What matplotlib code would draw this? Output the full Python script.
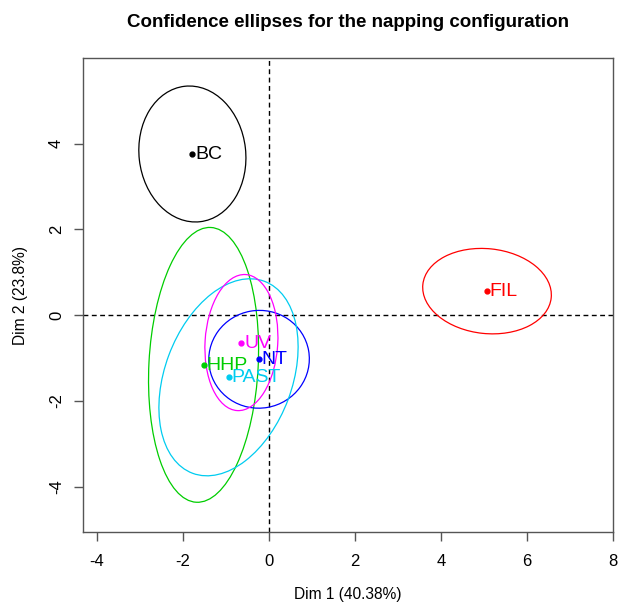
import numpy as np
import matplotlib
matplotlib.use("Agg")
import matplotlib.pyplot as plt
from matplotlib.patches import Ellipse

plt.rcParams['font.family'] = ['Liberation Sans', 'DejaVu Sans']
plt.rcParams['axes.unicode_minus'] = False

## Product coordinates on the first two dimensions ##
products = ['BC', 'FIL', 'HHP', 'NT', 'PAST', 'UV']
dim1 = [-1.78, 5.07, -1.52, -0.23, -0.94, -0.64]
dim2 = [3.76, 0.56, -1.16, -1.03, -1.45, -0.64]

## Confidence ellipses (full axis lengths and rotation in degrees) ##
ell_width = [3.18, 3.00, 6.42, 2.34, 4.78, 3.18]
ell_height = [2.48, 1.98, 2.54, 2.28, 2.96, 1.69]
ell_angle = [96.5, -6.0, 87.0, 10.0, 69.6, 86.5]

colors = ['black', '#FF0000', '#00CD00', '#0000FF', '#00CCF0', '#FF00FF']

fig = plt.figure(figsize=(6.18, 6.06), dpi=100)
ax = fig.add_axes([0.1338, 0.1221, 0.8582, 0.7822])

ax.axhline(0, color='black', lw=1.0, ls=(0, (3.5, 2.5)), zorder=1)
ax.axvline(0, color='black', lw=1.0, ls=(0, (3.5, 2.5)), zorder=1)

for i in range(len(products)):
    e = Ellipse((dim1[i], dim2[i]), ell_width[i], ell_height[i], angle=ell_angle[i],
                fill=False, edgecolor=colors[i], lw=0.9, zorder=2)
    ax.add_patch(e)
    ax.plot(dim1[i], dim2[i], 'o', color=colors[i], markersize=3.5, zorder=3)
    ax.annotate(products[i], (dim1[i], dim2[i]), xytext=(2.0, -0.5),
                textcoords='offset points', ha='left', va='center',
                color=colors[i], fontsize=14, zorder=4)

ax.set_xlim(-4.33, 8.0)
ax.set_ylim(-5.06, 6.0)
ax.set_xticks([-4, -2, 0, 2, 4, 6, 8])
ax.set_yticks([-4, -2, 0, 2, 4])
ax.set_yticklabels(['-4', '-2', '0', '2', '4'], rotation=90, va='center')

for side in ['top', 'right', 'bottom', 'left']:
    ax.spines[side].set_color('#555555')
    ax.spines[side].set_linewidth(1.0)
ax.tick_params(axis='both', direction='out', length=6.5, width=1.0,
               color='#555555', labelsize=12)
ax.tick_params(axis='x', pad=9.5)
ax.tick_params(axis='y', pad=7)

ax.set_xlabel('Dim 1 (40.38%)', fontsize=11.2, labelpad=13)
ax.set_ylabel('Dim 2 (23.8%)', fontsize=11.2, labelpad=15)
ax.set_title('Confidence ellipses for the napping configuration',
             fontsize=13.5, fontweight='bold', pad=22)

fig.savefig('out.png', dpi=100)
